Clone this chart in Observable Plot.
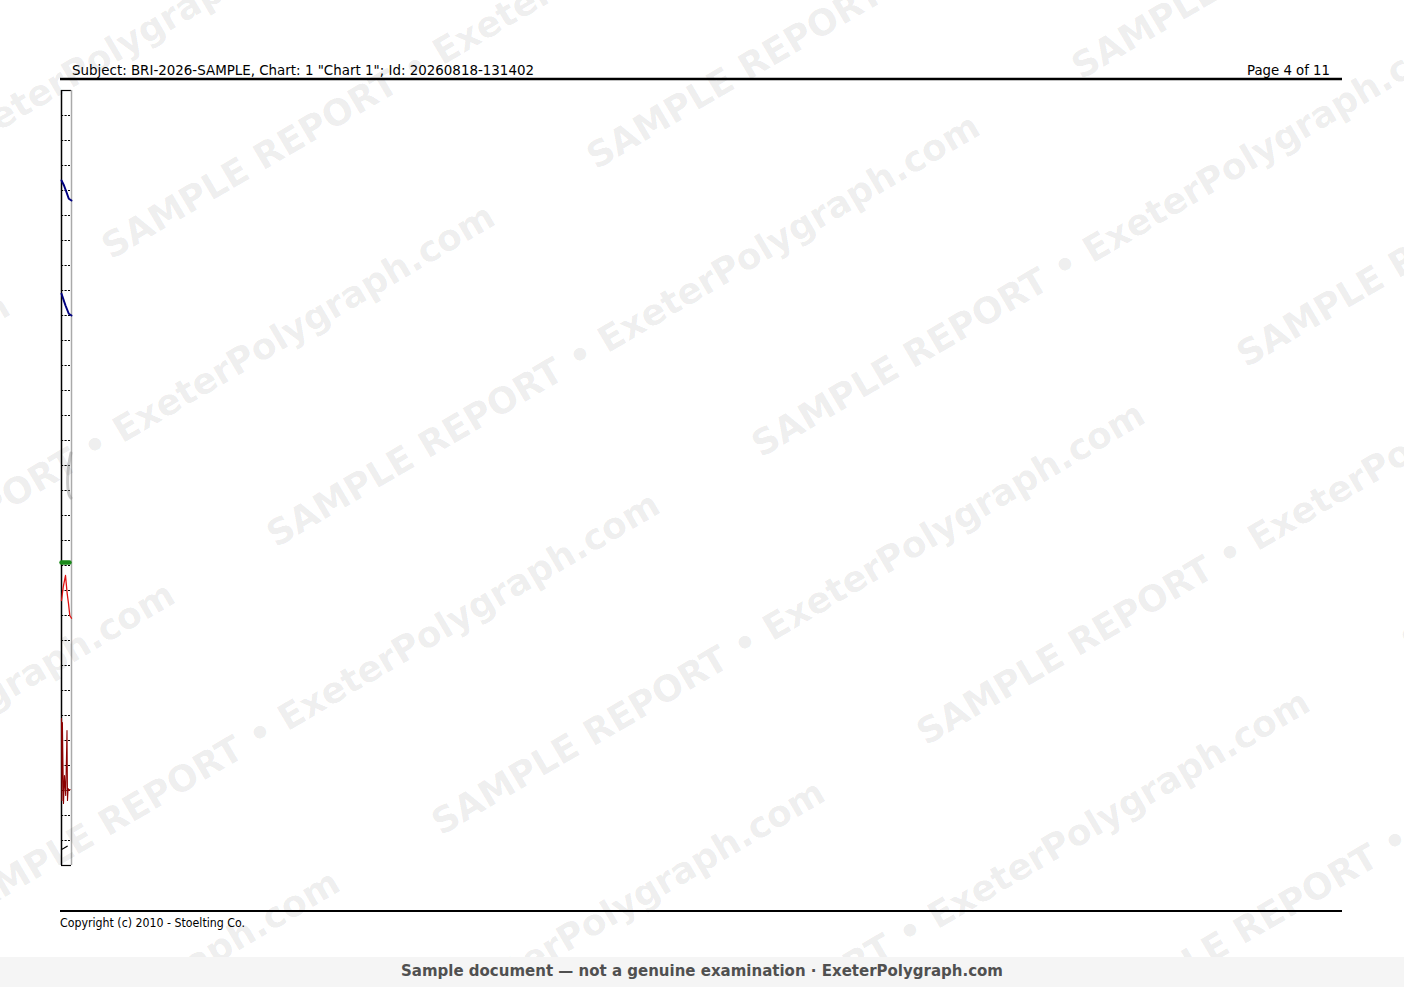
<!DOCTYPE html>
<html>
<head>
<meta charset="utf-8">
<script src="https://cdn.jsdelivr.net/npm/d3@7"></script>
<script src="https://cdn.jsdelivr.net/npm/@observablehq/plot@0.6"></script>
<style>
  html, body { margin: 0; padding: 0; background: #fff; }
  #page { position: relative; width: 1404px; height: 987px; overflow: hidden; background: #fff; }
  #deco, #chart, #wm { position: absolute; left: 0; top: 0; }
  #wm { pointer-events: none; }
  #banner { position: absolute; left: 0; top: 957px; width: 1404px; height: 30px; background: #f5f5f5;
    font-family: "DejaVu Sans", sans-serif; font-weight: bold; font-size: 15px; color: #505050;
    text-align: center; line-height: 28px; }
</style>
</head>
<body>
<div id="page">
  <svg id="deco" width="1404" height="987"></svg>
  <div id="chart"></div>
  <svg id="wm" width="1404" height="987"></svg>
  <div id="banner">Sample document — not a genuine examination · ExeterPolygraph.com</div>
</div>
<script>
// ---- page texts ----
const headerLeft = 'Subject: BRI-2026-SAMPLE, Chart: 1 "Chart 1"; Id: 20260818-131402';
const headerRight = "Page 4 of 11";
const footerText = "Copyright (c) 2010 - Stoelting Co.";
const watermarkText = "SAMPLE REPORT • ExeterPolygraph.com";

// ---- chart data (x = fraction of the displayed time window, y = grid divisions from bottom) ----
const gridLines = d3.range(1, 31);
const borderLines = [0, 31];
const pneumoUpperT = [0, 0.25, 0.5, 0.73, 1.0];
const pneumoUpper  = [27.4, 27.2, 26.93, 26.67, 26.6];
const pneumoLowerT = [0, 0.4, 0.73, 1.0];
const pneumoLower  = [22.87, 22.4, 22.07, 22.0];
const edaT = [0.95, 0.7, 0.6, 0.62, 0.75, 0.95];
const eda  = [16.5, 16.0, 15.5, 15.1, 14.8, 14.7];
const markerT = [0, 0.8];
const marker  = [12.12, 12.12];
const cardioT = [0, 0.17, 0.4, 0.57, 0.7, 0.83, 1.0];
const cardio  = [10.6, 11.13, 11.6, 10.87, 10.48, 10.0, 9.89];
const plethT = [0, 0.04, 0.09, 0.2, 0.3, 0.42, 0.55, 0.6, 0.66, 0.75, 0.85];
const pleth  = [5.88, 2.6, 5.72, 2.48, 3.6, 2.8, 5.4, 2.6, 3.08, 3.0, 3.04];
const activityT = [0, 0.23, 0.4, 0.57];
const activity  = [0.64, 0.69, 0.73, 0.77];

const toRows = (t, v) => t.map((x, i) => ({t: x, v: v[i]}));

// ---- decoration (header / footer) ----
const deco = d3.select("#deco");
deco.append("line").attr("x1", 60).attr("x2", 1342).attr("y1", 79).attr("y2", 79)
  .attr("stroke", "#000").attr("stroke-width", 2.5);
deco.append("line").attr("x1", 60).attr("x2", 1342).attr("y1", 911).attr("y2", 911)
  .attr("stroke", "#000").attr("stroke-width", 2);
deco.append("text").attr("x", 72).attr("y", 75).text(headerLeft)
  .attr("font-family", "DejaVu Sans, sans-serif").attr("font-size", 14)
  .attr("textLength", 462).attr("lengthAdjust", "spacingAndGlyphs");
deco.append("text").attr("x", 1247).attr("y", 75).text(headerRight)
  .attr("font-family", "DejaVu Sans, sans-serif").attr("font-size", 14)
  .attr("textLength", 83).attr("lengthAdjust", "spacingAndGlyphs");
deco.append("text").attr("x", 60).attr("y", 927).text(footerText)
  .attr("font-family", "DejaVu Sans, sans-serif").attr("font-size", 12)
  .attr("textLength", 185).attr("lengthAdjust", "spacingAndGlyphs");

// ---- chart ----
const W = 1404, H = 900;
const chart = Plot.plot({
  width: W, height: H,
  marginLeft: 61, marginRight: W - 71, marginTop: 90, marginBottom: H - 865,
  x: {domain: [0, 1], axis: null},
  y: {domain: [0, 31], axis: null},
  style: {background: "transparent"},
  marks: [
    Plot.ruleY(gridLines, {stroke: "#000", strokeWidth: 1.2, strokeDasharray: "2.2,1.3", x1: 0, x2: 0.9}),
    Plot.ruleY(borderLines, {stroke: "#000", strokeWidth: 1.2}),
    Plot.ruleX([1], {stroke: "#aaa", strokeWidth: 1.5}),
    Plot.ruleX([0], {stroke: "#000", strokeWidth: 1.5}),
    Plot.line(toRows(edaT, eda), {x: "t", y: "v", stroke: "#888", strokeWidth: 3, strokeOpacity: 0.45, curve: "basis"}),
    Plot.line(toRows(pneumoUpperT, pneumoUpper), {x: "t", y: "v", stroke: "#000080", strokeWidth: 2}),
    Plot.line(toRows(pneumoLowerT, pneumoLower), {x: "t", y: "v", stroke: "#000080", strokeWidth: 2}),
    Plot.line(toRows(markerT, marker), {x: "t", y: "v", stroke: "#1a8a1a", strokeWidth: 4.5}),
    Plot.line(toRows(cardioT, cardio), {x: "t", y: "v", stroke: "#e01010", strokeWidth: 1.3}),
    Plot.line(toRows(plethT, pleth), {x: "t", y: "v", stroke: "#8b0000", strokeWidth: 1.1}),
    Plot.line(toRows(activityT, activity), {x: "t", y: "v", stroke: "#000", strokeWidth: 1.3})
  ]
});
document.getElementById("chart").appendChild(chart);

// ---- watermark tiles ----
const wm = d3.select("#wm");
const base = [276, 548], v1 = [165, 288], v2 = [485, -90];
const tiles = [];
for (let i = -5; i <= 5; i++) for (let j = -4; j <= 5; j++) {
  const x = base[0] + i * v1[0] + j * v2[0];
  const y = base[1] + i * v1[1] + j * v2[1];
  if (x > -900 && x < 1500 && y > -100 && y < 1600) tiles.push([x, y]);
}
wm.selectAll("text").data(tiles).join("text")
  .attr("x", d => d[0]).attr("y", d => d[1])
  .attr("transform", d => `rotate(-30.4 ${d[0]} ${d[1]})`)
  .attr("font-family", "DejaVu Sans, sans-serif").attr("font-weight", "bold")
  .attr("font-size", 36).attr("fill", "#000").attr("fill-opacity", 0.075)
  .text(watermarkText);
</script>
</body>
</html>
